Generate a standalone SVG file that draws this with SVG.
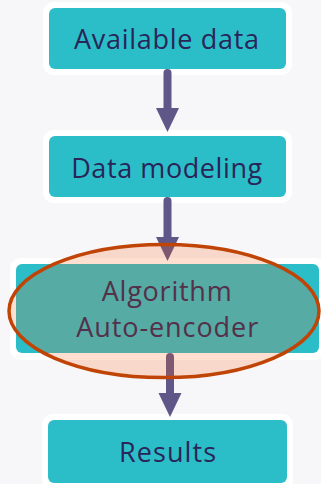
<svg xmlns="http://www.w3.org/2000/svg" width="321" height="484" viewBox="0 0 321 484">
  <defs>
    <style>
      .frame { fill: #ffffff; }
      .box { fill: #2cbec8; }
      .lbl { font-family: "Open Sans", "Liberation Sans", sans-serif; font-size: 27px; fill: #2a2558; text-anchor: middle; }
      .shaft { stroke: #5e5788; stroke-width: 8; stroke-linecap: round; fill: none; }
      .head { fill: #5e5788; }
    </style>
  </defs>
  <rect x="0" y="0" width="321" height="484" fill="#f7f7f9"/>
  <g id="node-available">
    <rect class="frame" x="43" y="2" width="249" height="73" rx="11"/>
    <rect class="box" x="49" y="8" width="237" height="61" rx="6"/>
    <text class="lbl" x="166.5" y="48.5" textLength="185" lengthAdjust="spacing">Available data</text>
  </g>
  <g id="node-modeling">
    <rect class="frame" x="43" y="130" width="249" height="73" rx="11"/>
    <rect class="box" x="49" y="136" width="237" height="61" rx="6"/>
    <text class="lbl" x="166.7" y="178" textLength="191" lengthAdjust="spacing">Data modeling</text>
  </g>
  <g id="node-algorithm">
    <rect class="frame" x="10" y="258" width="316" height="102" rx="11"/>
    <rect class="box" x="16" y="264" width="303" height="89" rx="6"/>
    <text class="lbl" x="166.7" y="301" textLength="130" lengthAdjust="spacing">Algorithm</text>
    <text class="lbl" x="167.2" y="337" textLength="182" lengthAdjust="spacing">Auto-encoder</text>
  </g>
  <g id="node-results">
    <rect class="frame" x="42" y="414" width="251" height="76" rx="11"/>
    <rect class="box" x="48" y="420" width="239" height="63" rx="6"/>
    <text class="lbl" x="167.5" y="462" textLength="97" lengthAdjust="spacing">Results</text>
  </g>
  <g id="connectors">
    <line class="shaft" x1="167.5" y1="73" x2="167.5" y2="110"/>
    <polygon class="head" points="156,108 179,108 167.5,132"/>
    <line class="shaft" x1="167.5" y1="201" x2="167.5" y2="238"/>
    <polygon class="head" points="156,237 179,237 167.5,261"/>
    <line class="shaft" x1="170" y1="357" x2="170" y2="395"/>
    <polygon class="head" points="158.5,393 181.5,393 170,417"/>
  </g>
  <g id="highlight">
    <ellipse cx="164" cy="311" rx="155" ry="66.5" fill="#ff5e14" fill-opacity="0.2" stroke="#c04406" stroke-width="3.5"/>
  </g>
</svg>
